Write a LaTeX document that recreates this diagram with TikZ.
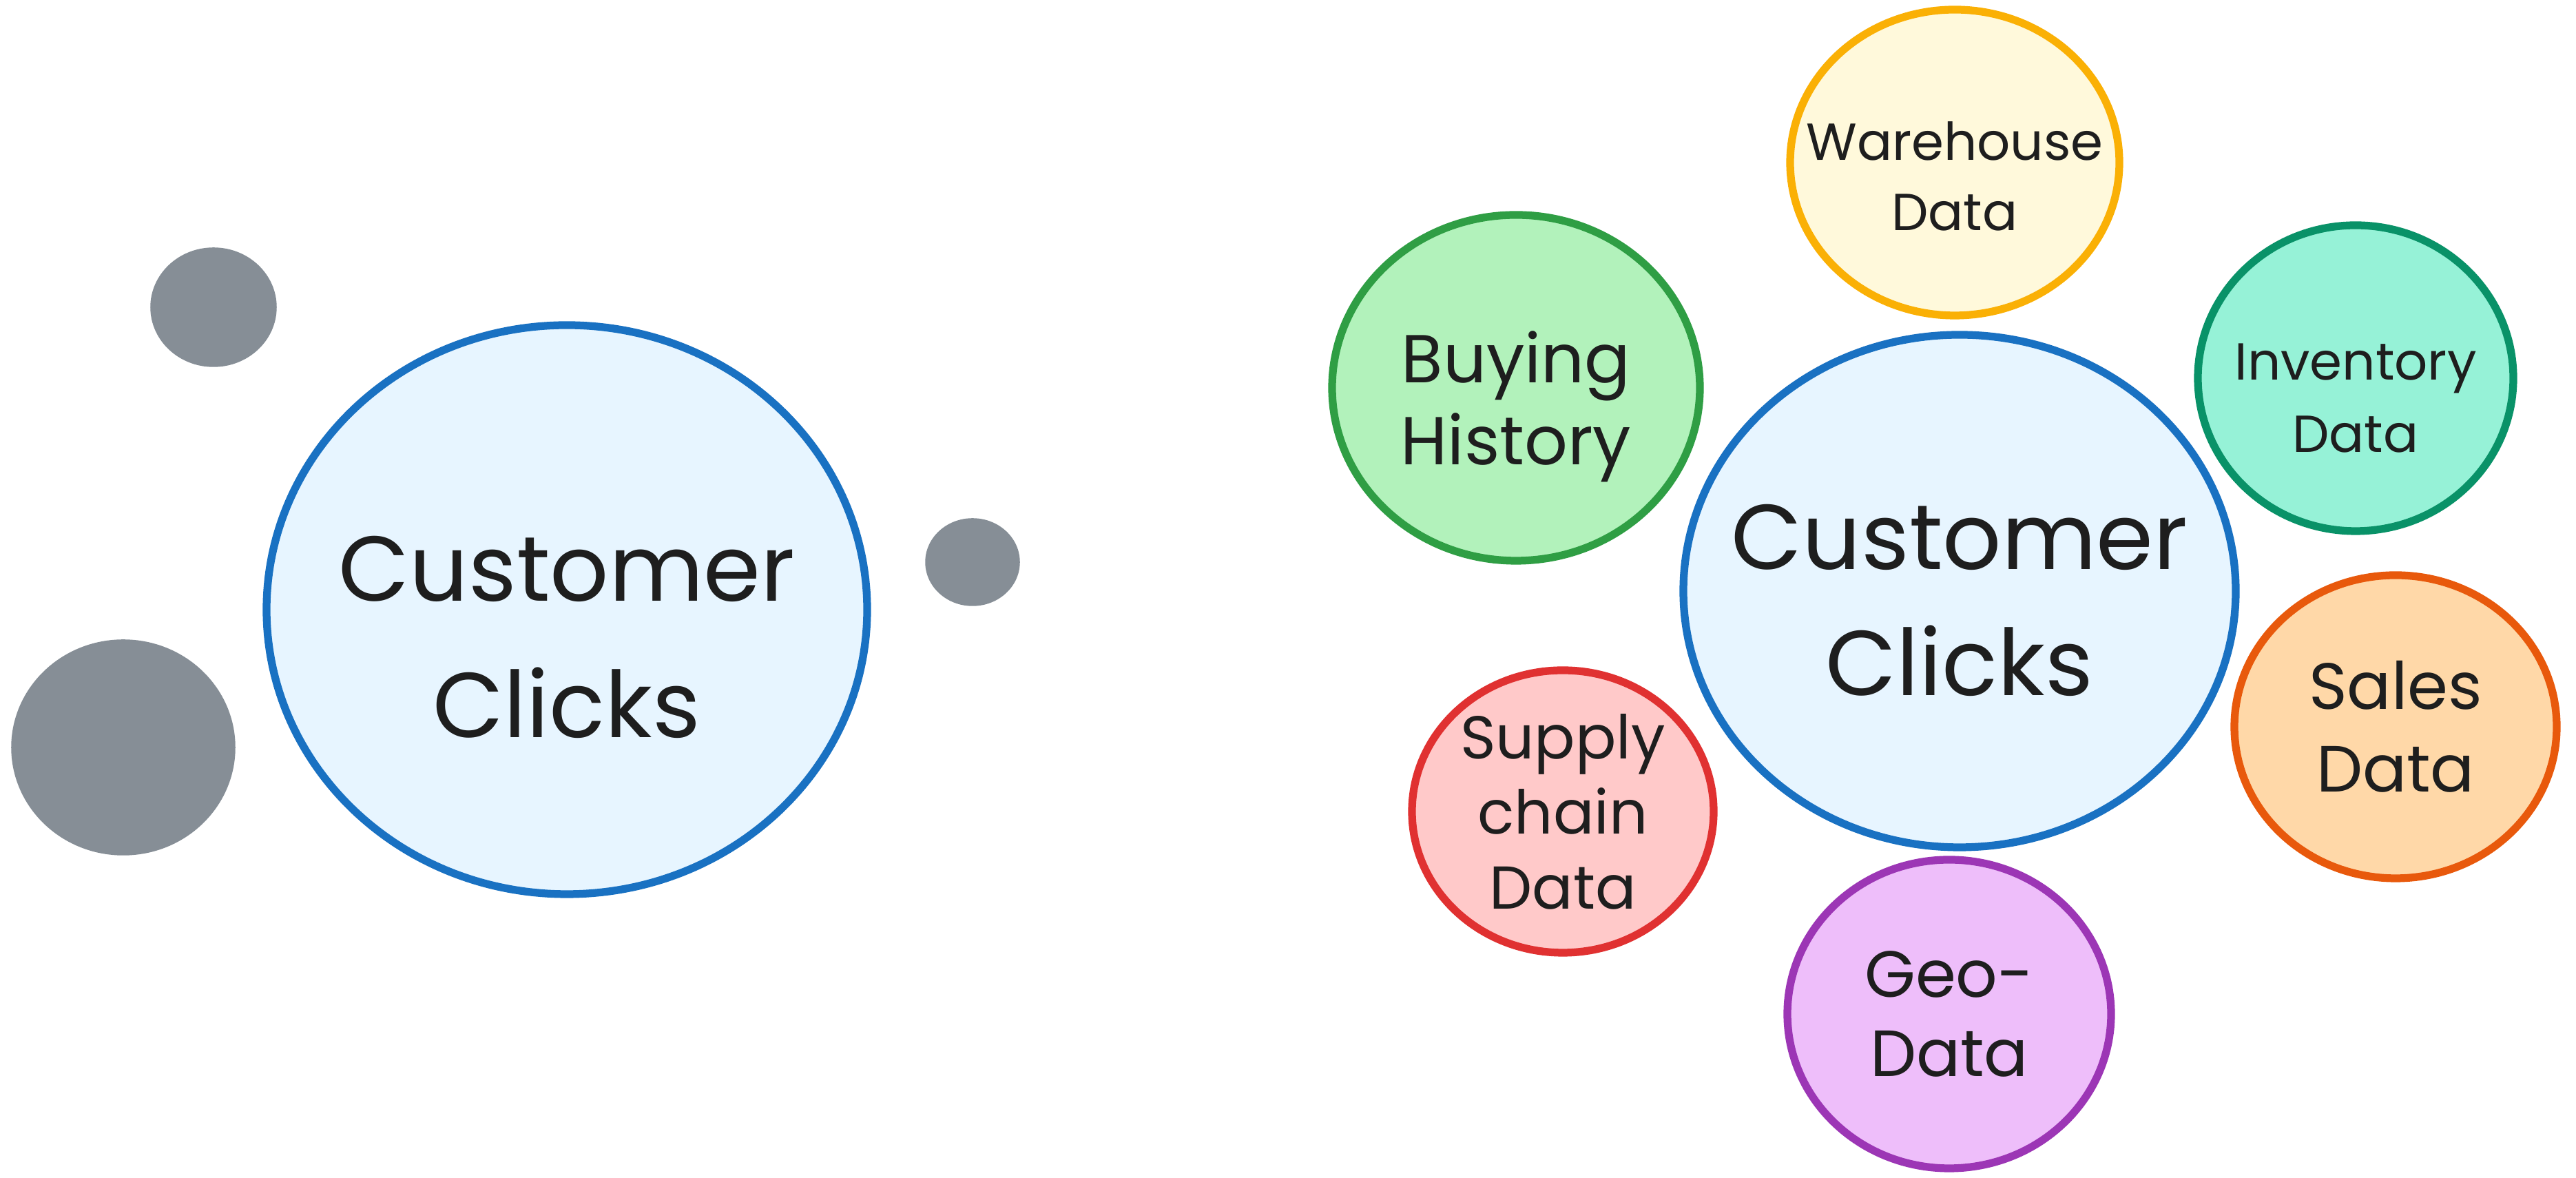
\documentclass[tikz,border=0pt]{standalone}
\usepackage{fontspec}
\setmainfont{Poppins}
\usetikzlibrary{shapes.geometric,positioning}
\definecolor{inkblack}{HTML}{1E1E1E}
\definecolor{clickline}{HTML}{1971C2}
\definecolor{clickfill}{HTML}{E7F5FF}
\definecolor{dotgray}{HTML}{868E96}
\definecolor{whline}{HTML}{FAB005}
\definecolor{whfill}{HTML}{FFF9DB}
\definecolor{buyline}{HTML}{2F9E44}
\definecolor{buyfill}{HTML}{B2F2BB}
\definecolor{invline}{HTML}{099268}
\definecolor{invfill}{HTML}{96F2D7}
\definecolor{salesline}{HTML}{E8590C}
\definecolor{salesfill}{HTML}{FFD8A8}
\definecolor{geoline}{HTML}{9C36B5}
\definecolor{geofill}{HTML}{EEBEFA}
\definecolor{supline}{HTML}{E03131}
\definecolor{supfill}{HTML}{FFC9C9}
% text block lowered inside its bubble
\newcommand{\lowtext}[2]{\raisebox{-#1}[0pt][0pt]{\begin{tabular}{@{}c@{}}#2\end{tabular}}}

\begin{document}
\begin{tikzpicture}[
  bubble/.style={ellipse, draw, line width=3.2pt, inner sep=-2.5cm, align=center, text=inkblack, font=\fontsize{25}{31}\selectfont},
  hub/.style={bubble, draw=clickline, fill=clickfill, inner sep=-4.5cm, font=\fontsize{38}{52}\selectfont},
  dot/.style={ellipse, draw=dotgray, fill=dotgray, line width=1pt, inner sep=0pt}
]
\useasboundingbox (0,0) rectangle (37.4,17.1);

% before: one topic with a few loose dots
\node[hub, minimum width=8.72cm, minimum height=8.26cm] (hubA) at (8.23,8.25) {\lowtext{0.72cm}{Customer\\[0.15cm]Clicks}};
\node[dot, minimum width=1.80cm, minimum height=1.70cm] (dotA) at (3.10,12.64) {};
\node[dot, minimum width=1.34cm, minimum height=1.24cm] (dotB) at (14.12,8.94) {};
\node[dot, minimum width=3.22cm, minimum height=3.10cm] (dotC) at (1.79,6.25) {};

% after: the same topic with its data sources
\node[hub, minimum width=8.02cm, minimum height=7.44cm] (hubB) at (28.45,8.52) {\lowtext{0.45cm}{Customer\\Clicks}};
\node[bubble, draw=whline, fill=whfill, minimum width=4.78cm, minimum height=4.44cm, font=\fontsize{21.5}{29}\selectfont] (wh) at (28.38,14.74) {\lowtext{0.45cm}{Warehouse\\Data}};
\node[bubble, draw=buyline, fill=buyfill, minimum width=5.34cm, minimum height=5.02cm, font=\fontsize{28}{34}\selectfont] (buy) at (22.01,11.47) {\lowtext{0.5cm}{Buying\\History}};
\node[bubble, draw=invline, fill=invfill, minimum width=4.58cm, minimum height=4.44cm, font=\fontsize{21.5}{30}\selectfont] (inv) at (34.20,11.61) {\lowtext{0.52cm}{Inventory\\Data}};
\node[bubble, draw=salesline, fill=salesfill, minimum width=4.68cm, minimum height=4.40cm, font=\fontsize{27}{34}\selectfont] (sales) at (34.78,6.55) {Sales\\Data};
\node[bubble, draw=geoline, fill=geofill, minimum width=4.70cm, minimum height=4.48cm, font=\fontsize{27}{33}\selectfont] (geo) at (28.30,2.38) {Geo-\\Data};
\node[bubble, draw=supline, fill=supfill, minimum width=4.38cm, minimum height=4.10cm] (sup) at (22.69,5.32) {Supply\\chain\\Data};
\end{tikzpicture}
\end{document}
